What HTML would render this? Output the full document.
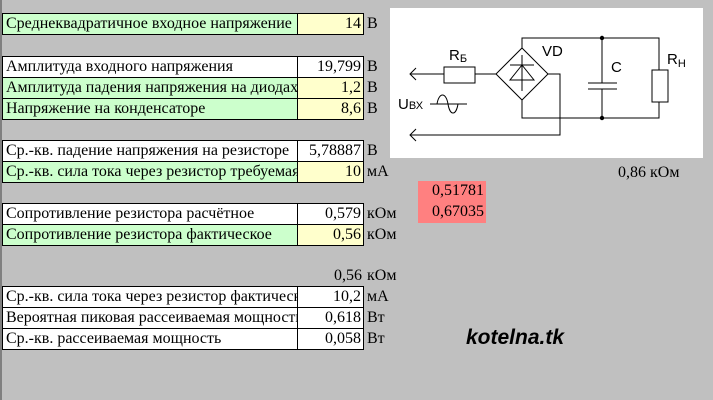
<!DOCTYPE html>
<html><head><meta charset="utf-8"><style>
body{margin:0;width:713px;height:400px;background:#c0c0c0;position:relative;overflow:hidden;font-family:"Liberation Serif","DejaVu Serif",serif;font-size:16px;color:#000}
.c{position:absolute;box-sizing:border-box;border:1px solid #000;height:22px;line-height:20px;white-space:nowrap;overflow:hidden}
.l{left:2px;width:296px;padding-left:3px}
.v{left:297px;width:67px;text-align:right;padding-right:2px}
.g{background:#ccffcc}.y{background:#ffffcc}.w{background:#fff}
.t{position:absolute;line-height:20px;white-space:nowrap}
</style></head><body>
<div style="position:absolute;left:0;top:0;width:2px;height:400px;background:#808080"></div>

<div class="c l g" style="top:13px">Среднеквадратичное входное напряжение</div><div class="c v y" style="top:13px">14</div><div class="t" style="left:367px;top:14px">В</div>

<div class="c l w" style="top:56px">Амплитуда входного напряжения</div><div class="c v w" style="top:56px">19,799</div><div class="t" style="left:367px;top:57px">В</div>
<div class="c l g" style="top:77px">Амплитуда падения напряжения на диодах</div><div class="c v y" style="top:77px">1,2</div><div class="t" style="left:367px;top:78px">В</div>
<div class="c l g" style="top:98px">Напряжение на конденсаторе</div><div class="c v y" style="top:98px">8,6</div><div class="t" style="left:367px;top:99px">В</div>

<div class="c l w" style="top:140px">Ср.-кв. падение напряжения на резисторе</div><div class="c v w" style="top:140px">5,78887</div><div class="t" style="left:367px;top:141px">В</div>
<div class="c l g" style="top:161px">Ср.-кв. сила тока через резистор требуемая</div><div class="c v y" style="top:161px">10</div><div class="t" style="left:367px;top:162px">мА</div>

<div class="c l w" style="top:203px">Сопротивление резистора расчётное</div><div class="c v w" style="top:203px">0,579</div><div class="t" style="left:367px;top:204px">кОм</div>
<div class="c l g" style="top:224px">Сопротивление резистора фактическое</div><div class="c v y" style="top:224px">0,56</div><div class="t" style="left:367px;top:225px">кОм</div>

<div class="t" style="left:297px;width:65px;text-align:right;top:266px">0,56</div><div class="t" style="left:367px;top:266px">кОм</div>
<div class="c l w" style="top:286px">Ср.-кв. сила тока через резистор фактическ</div><div class="c v w" style="top:286px">10,2</div><div class="t" style="left:367px;top:287px">мА</div>
<div class="c l w" style="top:307px">Вероятная пиковая рассеиваемая мощность</div><div class="c v w" style="top:307px">0,618</div><div class="t" style="left:367px;top:308px">Вт</div>
<div class="c l w" style="top:328px">Ср.-кв. рассеиваемая мощность</div><div class="c v w" style="top:328px">0,058</div><div class="t" style="left:367px;top:329px">Вт</div>

<div style="position:absolute;left:418px;top:181px;width:68px;height:42px;background:#ff8080"></div>
<div class="t" style="left:418px;width:66px;text-align:right;top:181px">0,51781</div>
<div class="t" style="left:418px;width:66px;text-align:right;top:202px">0,67035</div>
<div class="t" style="left:618px;top:163px">0,86 кОм</div>

<div class="t" style="left:466px;top:328px;font-family:'Liberation Sans',sans-serif;font-weight:bold;font-style:italic;font-size:21px">kotelna.tk</div>

<svg style="position:absolute;left:0;top:0" width="713" height="400" font-family="Liberation Sans, sans-serif">
<rect x="390" y="8" width="313" height="150" fill="#fff"/>
<g stroke="#000" stroke-width="1" fill="none" shape-rendering="crispEdges">
<polyline points="522,48 522,38 659,38 659,70"/>
<polyline points="659,102 659,118 522,118 522,100"/>
<polyline points="548,74 560,74 560,135 410,135"/>
<line x1="410" y1="74" x2="444" y2="74"/>
<line x1="475" y1="74" x2="496" y2="74"/>
<rect x="444" y="67" width="31" height="16"/>
<rect x="652" y="70" width="16" height="32"/>
<line x1="602" y1="38" x2="602" y2="83"/><line x1="602" y1="89" x2="602" y2="118"/>
<line x1="588" y1="83" x2="617" y2="83"/><line x1="588" y1="89" x2="617" y2="89"/>
<line x1="522" y1="55" x2="522" y2="91"/><line x1="510" y1="65" x2="534" y2="65"/>
<line x1="430" y1="104" x2="467" y2="104"/>
</g>
<g stroke="#000" stroke-width="1" fill="none">
<polygon points="522,48 548,74 522,100 496,74"/>
<polygon points="522,65 534,80 510,80"/>
<polyline points="416,68 410,74 416,80"/>
<polyline points="416,129 410,135 416,141"/>
<path d="M437,104 C439,92 446,92 448,104 C450,116 456,116 458,104"/>
</g>
<circle cx="602" cy="38" r="2.2"/><circle cx="602" cy="118" r="2.2"/>
<text x="449" y="60" font-size="15">R<tspan font-size="11" dy="2">Б</tspan></text>
<text x="542" y="56" font-size="15">VD</text>
<text x="611" y="72" font-size="15">C</text>
<text x="667" y="64" font-size="15">R<tspan font-size="11" dy="3">Н</tspan></text>
<text x="398" y="109" font-size="15">U<tspan font-size="11">ВХ</tspan></text>
</svg>
</body></html>
